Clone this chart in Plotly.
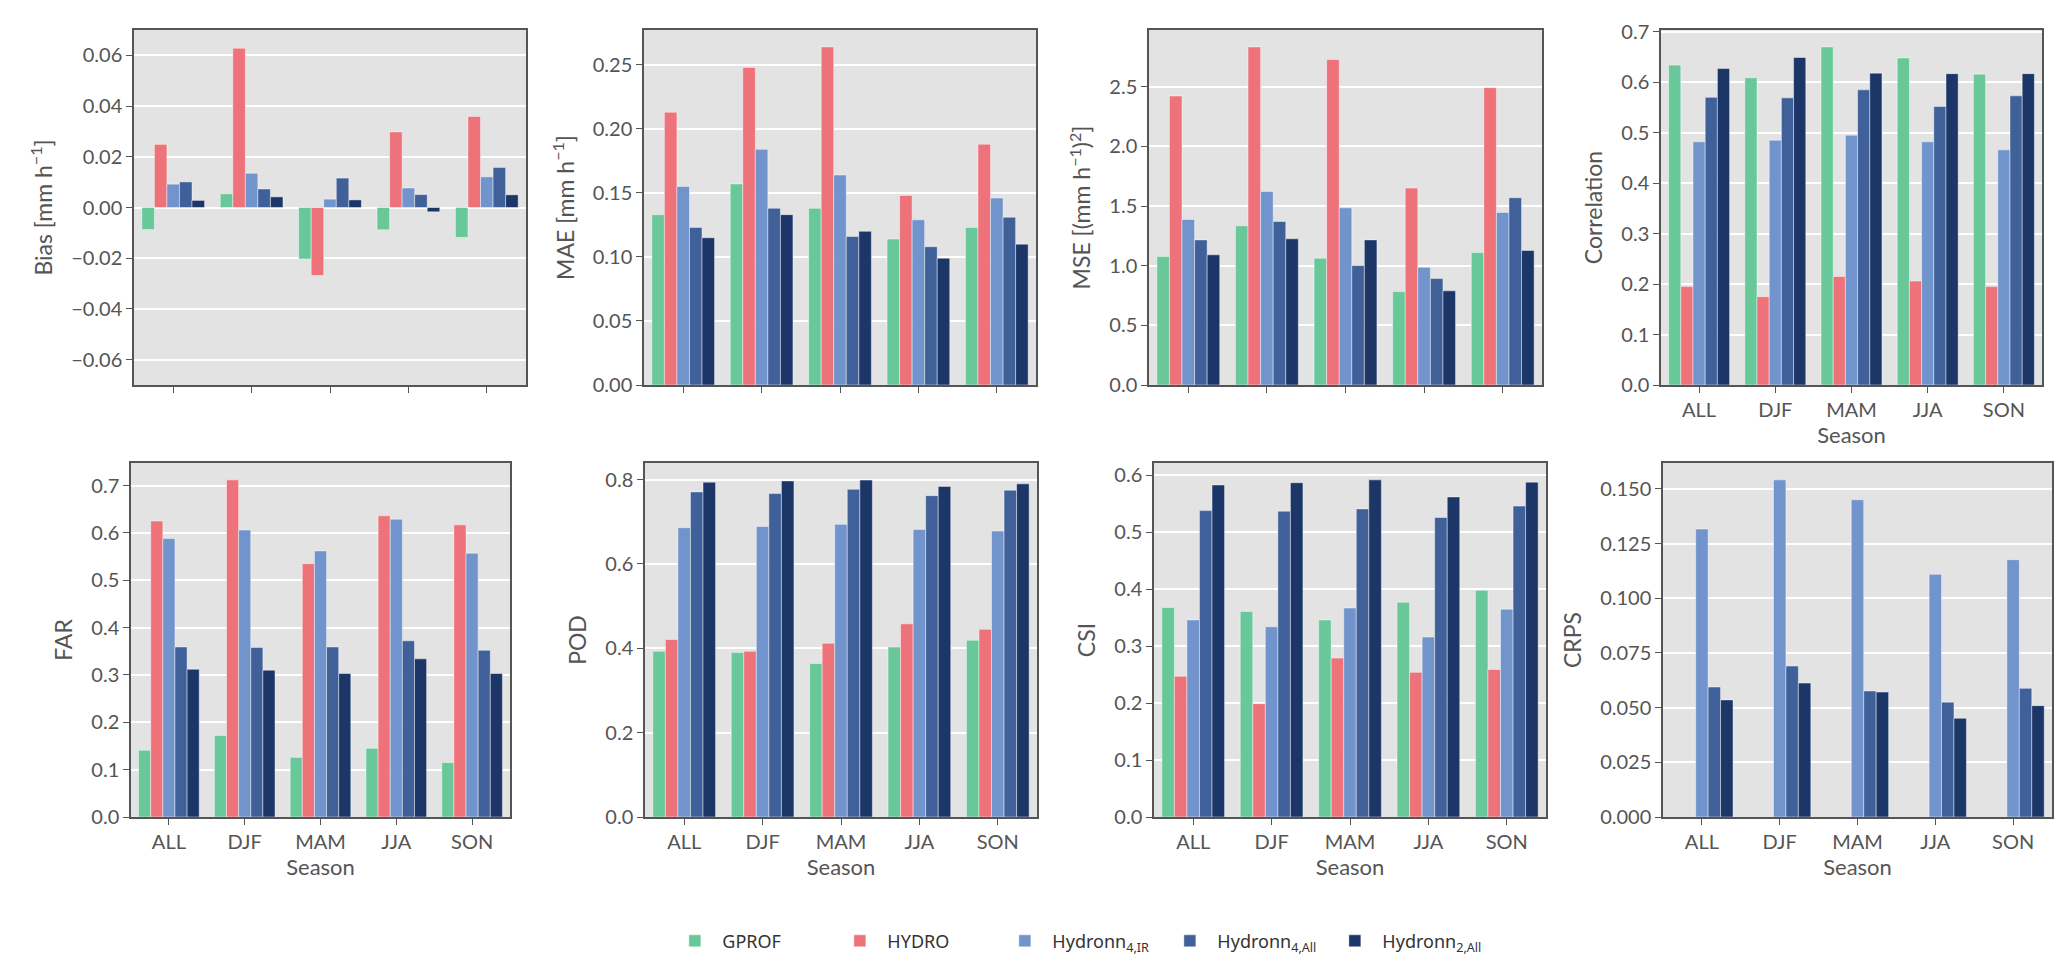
import plotly.graph_objects as go
from plotly.subplots import make_subplots

seasons = ['ALL', 'DJF', 'MAM', 'JJA', 'SON']
models = ['GPROF', 'HYDRO', 'Hydronn<sub>4,IR</sub>', 'Hydronn<sub>4,All</sub>', 'Hydronn<sub>2,All</sub>']
colors = ['#68c899', '#ee727a', '#7294cc', '#3f6099', '#1c3668']

# values per metric, one list per model (GPROF, HYDRO, H4IR, H4All, H2All)
bias = [
    [-0.0087, 0.0054, -0.0203, -0.0088, -0.0118],
    [0.0249, 0.0628, -0.0268, 0.0298, 0.0359],
    [0.0092, 0.0135, 0.0033, 0.0077, 0.0121],
    [0.0101, 0.0073, 0.0116, 0.0051, 0.0158],
    [0.0028, 0.0042, 0.0030, -0.0017, 0.0050],
]
mae = [
    [0.133, 0.157, 0.138, 0.114, 0.123],
    [0.213, 0.248, 0.264, 0.148, 0.188],
    [0.155, 0.184, 0.164, 0.129, 0.146],
    [0.123, 0.138, 0.116, 0.108, 0.131],
    [0.115, 0.133, 0.120, 0.099, 0.110],
]
mse = [
    [1.076, 1.334, 1.063, 0.783, 1.110],
    [2.422, 2.833, 2.727, 1.650, 2.492],
    [1.387, 1.622, 1.485, 0.987, 1.446],
    [1.216, 1.370, 1.001, 0.892, 1.569],
    [1.091, 1.225, 1.216, 0.789, 1.127],
]
corr = [
    [0.634, 0.609, 0.670, 0.648, 0.616],
    [0.195, 0.175, 0.215, 0.206, 0.195],
    [0.482, 0.485, 0.495, 0.482, 0.466],
    [0.570, 0.569, 0.585, 0.552, 0.573],
    [0.627, 0.649, 0.618, 0.617, 0.617],
]
far = [
    [0.141, 0.172, 0.126, 0.145, 0.115],
    [0.625, 0.712, 0.535, 0.636, 0.617],
    [0.588, 0.606, 0.562, 0.629, 0.557],
    [0.359, 0.358, 0.359, 0.372, 0.352],
    [0.312, 0.310, 0.303, 0.334, 0.303],
]
pod = [
    [0.393, 0.390, 0.364, 0.403, 0.419],
    [0.421, 0.393, 0.412, 0.458, 0.445],
    [0.686, 0.689, 0.694, 0.682, 0.678],
    [0.771, 0.767, 0.777, 0.762, 0.775],
    [0.794, 0.797, 0.799, 0.784, 0.790],
]
csi = [
    [0.368, 0.361, 0.346, 0.377, 0.398],
    [0.247, 0.199, 0.279, 0.254, 0.259],
    [0.346, 0.334, 0.367, 0.316, 0.365],
    [0.538, 0.537, 0.541, 0.526, 0.546],
    [0.583, 0.587, 0.592, 0.562, 0.588],
]
crps = [
    [None] * 5,
    [None] * 5,
    [0.1316, 0.1541, 0.1450, 0.1109, 0.1176],
    [0.0594, 0.0690, 0.0576, 0.0525, 0.0588],
    [0.0535, 0.0612, 0.0571, 0.0451, 0.0509],
]

# (data, y title, y range, dtick, tick format, show x labels)
panels = [
    (bias, 'Bias [mm h<sup>−1</sup>]', [-0.07, 0.07], 0.02, '.2f', False),
    (mae, 'MAE [mm h<sup>−1</sup>]', [0, 0.2772], 0.05, '.2f', False),
    (mse, 'MSE [(mm h<sup>−1</sup>)<sup>2</sup>]', [0, 2.975], 0.5, '.1f', False),
    (corr, 'Correlation', [0, 0.7035], 0.1, '.1f', True),
    (far, 'FAR', [0, 0.7476], 0.1, '.1f', True),
    (pod, 'POD', [0, 0.8395], 0.2, '.1f', True),
    (csi, 'CSI', [0, 0.6216], 0.1, '.1f', True),
    (crps, 'CRPS', [0, 0.1618], 0.025, '.3f', True),
]

W, H = 2067, 961
# panel boxes in pixels: left, right, top, bottom
boxes = [
    (126, 518, 22, 377), (636, 1028, 22, 377), (1141, 1534, 22, 377), (1653, 2034, 22, 377),
    (123, 502, 455, 809), (637, 1029, 455, 809), (1146, 1538, 455, 809), (1655, 2044, 455, 809),
]

fig = make_subplots(rows=2, cols=4)

txt = '#555555'
font = 'Lato'
bw = 0.16

for p, (data, title, yr, dt, fmt, xlab) in enumerate(panels):
    r, c = p // 4 + 1, p % 4 + 1
    for i, m in enumerate(models):
        fig.add_trace(go.Bar(
            x=seasons, y=data[i], name=m, marker_color=colors[i],
            marker_line=dict(color='rgba(255,255,255,0.55)', width=0.8),
            width=bw, offset=-0.4 + i * bw,
            legendgroup=m, showlegend=(p == 0),
        ), row=r, col=c)
    l, rr, t, b = boxes[p]
    fig.update_xaxes(
        domain=[l / W, rr / W], range=[-0.5, 4.5], type='category',
        showgrid=False, showline=True, mirror=True, linecolor=txt, linewidth=1.5,
        ticks='outside', ticklen=6, tickwidth=1.2, tickcolor=txt,
        showticklabels=xlab, tickfont=dict(size=20, color=txt, family=font),
        title=dict(text='Season' if xlab else '', font=dict(size=22, color=txt, family=font), standoff=6),
        automargin=False, row=r, col=c)
    fig.update_yaxes(
        domain=[1 - b / H, 1 - t / H], range=yr, dtick=dt, tick0=0, tickformat=fmt,
        showgrid=True, gridcolor='white', gridwidth=1.6, zeroline=False,
        showline=True, mirror=True, linecolor=txt, linewidth=1.5,
        ticks='outside', ticklen=6, tickwidth=1.2, tickcolor=txt,
        tickfont=dict(size=20, color=txt, family=font),
        title=dict(text=title, font=dict(size=23, color=txt, family=font), standoff=12),
        automargin=False, row=r, col=c)

fig.update_layout(
    width=W, height=H,
    margin=dict(l=0, r=0, t=0, b=0),
    paper_bgcolor='white', plot_bgcolor='#e3e3e3',
    barmode='overlay',
    legend=dict(orientation='h', x=0.319, xanchor='left', y=0.029, yanchor='middle',
                font=dict(size=18, color='#333333', family='Noto Sans'),
                itemwidth=45, entrywidth=105, entrywidthmode='pixels',
                bgcolor='rgba(0,0,0,0)'),
)

fig.write_html('out.html')
